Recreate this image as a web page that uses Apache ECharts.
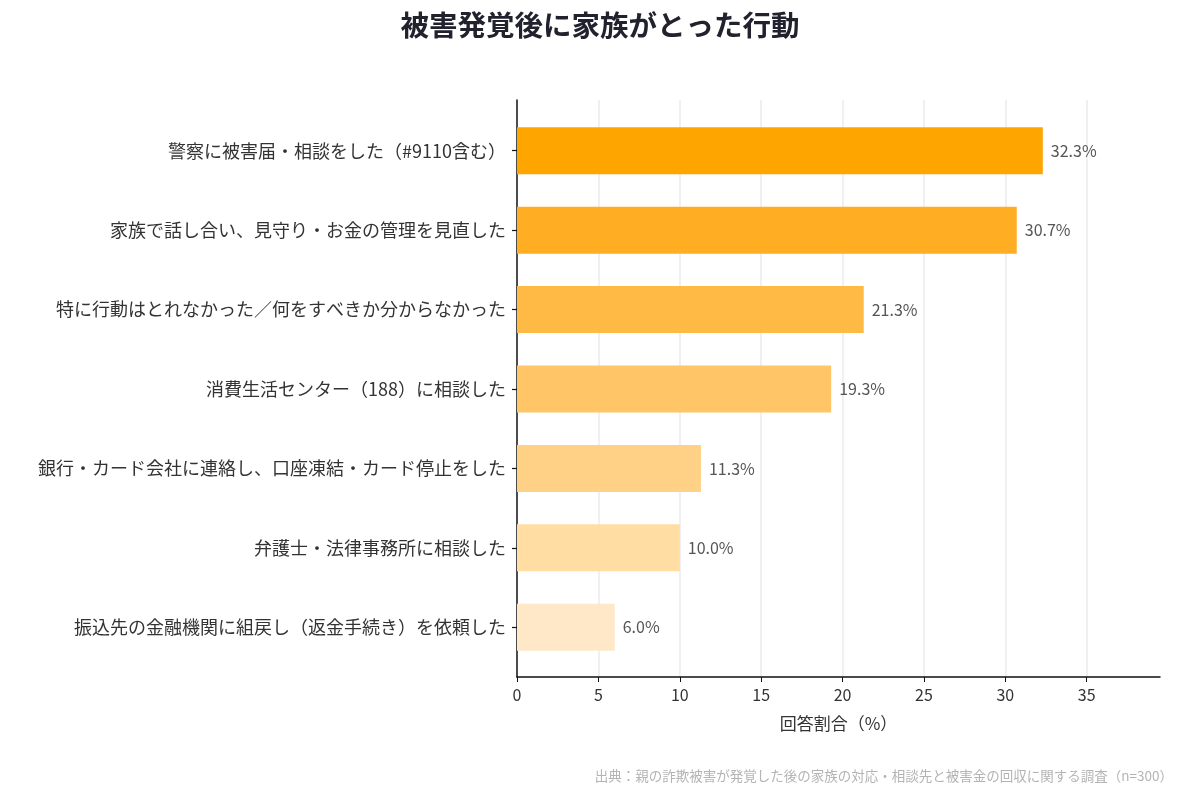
<!DOCTYPE html>
<html>
<head>
<meta charset="utf-8">
<script src="https://cdn.jsdelivr.net/npm/echarts@6/dist/echarts.min.js"></script>
<style>
  html, body { margin: 0; padding: 0; background: #fff; }
  #chart { width: 1200px; height: 800px; }
</style>
</head>
<body>
<div id="chart"></div>
<script>
// data (top to bottom as shown)
const categories = [
  '警察に被害届・相談をした（#9110含む）',
  '家族で話し合い、見守り・お金の管理を見直した',
  '特に行動はとれなかった／何をすべきか分からなかった',
  '消費生活センター（188）に相談した',
  '銀行・カード会社に連絡し、口座凍結・カード停止をした',
  '弁護士・法律事務所に相談した',
  '振込先の金融機関に組戻し（返金手続き）を依頼した'
]
const values = [32.3, 30.7, 21.3, 19.3, 11.3, 10.0, 6.0]
const barColors = ['#FFA500', '#FFAE24', '#FFB945', '#FFC566', '#FFD186', '#FFDDA3', '#FFE8C8']
const xTicks = [0, 5, 10, 15, 20, 25, 30, 35]

const font = '"Noto Sans CJK JP", "Noto Sans", sans-serif'
const xMax = 39.5

const chart = echarts.init(document.getElementById('chart'))

const option = {
  backgroundColor: '#fff',
  textStyle: { fontFamily: font },
  title: [
    {
      text: '被害発覚後に家族がとった行動',
      left: 'center',
      top: 6,
      textStyle: { fontSize: 28.5, fontWeight: 'bold', color: '#22222e', fontFamily: font }
    },
    {
      text: '出典：親の詐欺被害が発覚した後の家族の対応・相談先と被害金の回収に関する調査（n=300）',
      right: 22,
      top: 764,
      textStyle: { fontSize: 13.5, fontWeight: 'normal', color: '#b4b4b4', fontFamily: font }
    }
  ],
  grid: [
    // bars + category labels (inset so bars sit away from the axis ends)
    { left: 517, right: 40, top: 111, bottom: 133, containLabel: false },
    // frame: axis lines, ticks, grid lines
    { left: 517, right: 40, top: 100, bottom: 123, containLabel: false }
  ],
  xAxis: [
    {
      gridIndex: 0,
      type: 'value',
      min: 0,
      max: xMax,
      show: false
    },
    {
      gridIndex: 1,
      type: 'value',
      min: 0,
      max: xMax,
      interval: 5,
      name: '回答割合（%）',
      nameLocation: 'middle',
      nameGap: 38,
      nameTextStyle: { fontSize: 17, color: '#333', fontFamily: font },
      axisLine: { show: true, lineStyle: { color: '#111', width: 1.5 } },
      axisTick: { show: true, length: 5, lineStyle: { color: '#111' } },
      axisLabel: {
        fontSize: 16,
        color: '#333',
        margin: 10,
        showMaxLabel: false,
        formatter: function (v) {
          return xTicks.indexOf(v) >= 0 ? String(v) : ''
        }
      },
      splitLine: { show: true, showMaxLine: false, showMinLine: false, lineStyle: { color: '#ece9f1', width: 1.5 } }
    }
  ],
  yAxis: [
    {
      gridIndex: 0,
      type: 'category',
      inverse: true,
      data: categories,
      axisLine: { show: false },
      axisTick: { show: true, alignWithLabel: true, length: 5, lineStyle: { color: '#111', width: 1.2 } },
      axisLabel: { fontSize: 18, color: '#333', margin: 11 }
    },
    {
      gridIndex: 1,
      type: 'value',
      min: 0,
      max: 1,
      axisLine: { show: true, lineStyle: { color: '#111', width: 1.5 } },
      axisTick: { show: false },
      axisLabel: { show: false },
      splitLine: { show: false }
    }
  ],
  series: [
    {
      type: 'bar',
      xAxisIndex: 0,
      yAxisIndex: 0,
      data: values.map((v, i) => ({ value: v, itemStyle: { color: barColors[i] } })),
      barWidth: 47,
      label: {
        show: true,
        position: 'right',
        distance: 8,
        fontSize: 16,
        color: '#555',
        formatter: p => p.value.toFixed(1) + '%'
      }
    }
  ]
}

chart.setOption(option)
</script>
</body>
</html>
